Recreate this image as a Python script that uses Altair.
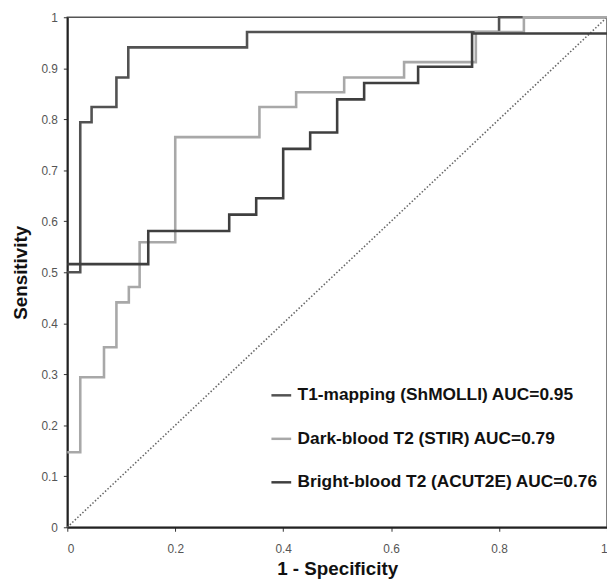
import altair as alt
import pandas as pd

# ROC step curves (corner points, step-after)
t1_x = [0.0, 0.024, 0.045, 0.091, 0.113, 0.333, 0.800, 1.0]
t1_y = [0.500, 0.794, 0.824, 0.882, 0.941, 0.971, 1.000, 1.0]

dark_x = [0.0, 0.024, 0.068, 0.091, 0.114, 0.134, 0.200, 0.356, 0.424, 0.513, 0.624, 0.757, 0.846, 1.0]
dark_y = [0.147, 0.294, 0.353, 0.441, 0.471, 0.559, 0.765, 0.824, 0.853, 0.882, 0.912, 0.971, 1.000, 1.0]

bright_x = [0.0, 0.150, 0.300, 0.350, 0.400, 0.450, 0.500, 0.550, 0.650, 0.750, 1.0]
bright_y = [0.516, 0.581, 0.613, 0.645, 0.742, 0.774, 0.839, 0.871, 0.903, 0.968, 0.968]

diag_x = [0.0, 1.0]
diag_y = [0.0, 1.0]

series_names = [
    "T1-mapping (ShMOLLI) AUC=0.95",
    "Dark-blood T2 (STIR) AUC=0.79",
    "Bright-blood T2 (ACUT2E) AUC=0.76",
]
series_colors = ["#525252", "#a8a8a8", "#3f3f3f"]

x_ticks = [0, 0.2, 0.4, 0.6, 0.8, 1]
y_ticks = [0, 0.1, 0.2, 0.3, 0.4, 0.5, 0.6, 0.7, 0.8, 0.9, 1]

rows = []
for name, xs, ys in zip(series_names, [t1_x, dark_x, bright_x], [t1_y, dark_y, bright_y]):
    for i, (xv, yv) in enumerate(zip(xs, ys)):
        rows.append({"series": name, "x": xv, "y": yv, "order": i})
df = pd.DataFrame(rows)
diag = pd.DataFrame({"x": diag_x, "y": diag_y})

xs = alt.Scale(domain=[0, 1], nice=False, zero=False)
ys = alt.Scale(domain=[0, 1], nice=False, zero=False)

x_axis = alt.Axis(values=x_ticks, format="~g", title="1 - Specificity", grid=False,
                  labelColor="#555555", labelFontSize=12, labelFont="Liberation Sans",
                  labelPadding=13, tickSize=4, tickColor="#333333",
                  domainColor="#222222", domainWidth=2,
                  titleFont="Liberation Sans", titleFontSize=19, titleFontWeight="bold",
                  titleColor="#111111", titlePadding=5)
y_axis = alt.Axis(values=y_ticks, format="~g", title="Sensitivity", grid=False,
                  labelColor="#555555", labelFontSize=12, labelFont="Liberation Sans",
                  labelPadding=6, tickSize=4, tickColor="#333333",
                  domainColor="#222222", domainWidth=2,
                  titleFont="Liberation Sans", titleFontSize=19, titleFontWeight="bold",
                  titleColor="#111111", titlePadding=11)

diag_line = alt.Chart(diag).mark_line(color="#666666", strokeWidth=1.6, strokeDash=[1.5, 2]).encode(
    x=alt.X("x:Q", scale=xs, axis=x_axis),
    y=alt.Y("y:Q", scale=ys, axis=y_axis),
)

curves = alt.Chart(df).mark_line(interpolate="step-after", strokeWidth=2.6).encode(
    x=alt.X("x:Q", scale=xs, axis=x_axis),
    y=alt.Y("y:Q", scale=ys, axis=y_axis),
    order="order:Q",
    color=alt.Color("series:N",
                    scale=alt.Scale(domain=series_names, range=series_colors),
                    sort=series_names,
                    legend=alt.Legend(title=None, orient="none", legendX=205, legendY=371,
                                      symbolType="stroke", symbolSize=400, symbolStrokeWidth=2.5,
                                      labelFont="Liberation Sans", labelFontSize=17.5,
                                      labelFontWeight="bold", labelColor="#111111",
                                      labelOffset=5, rowPadding=24, padding=0,
                                      labelLimit=400)),
)

chart = (diag_line + curves).properties(
    width=546, height=516,
    autosize=alt.AutoSizeParams(type="none"),
    padding={"left": 60, "top": 6, "right": 0, "bottom": 53},
    background="#ffffff",
).configure_view(stroke="#555555", strokeWidth=1.5)

chart.save("out.html", embed_options={"renderer": "svg", "actions": False})
